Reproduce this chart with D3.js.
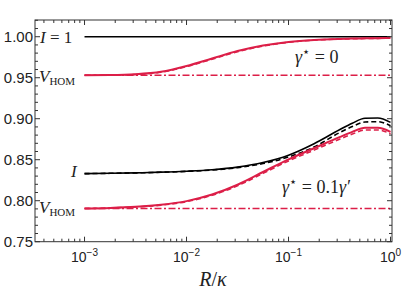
<!DOCTYPE html>
<html><head><meta charset="utf-8">
<script src="https://cdn.jsdelivr.net/npm/d3@7"></script>
<style>body{margin:0;background:#fff}svg{display:block}</style>
</head><body>
<svg id="c" width="405" height="298"></svg>
<script>
// ---- data ----
const R = [0.001,0.00178,0.00316,0.00562,0.01,0.0178,0.0316,0.0562,0.1,0.178,0.316,0.422,0.562,0.75,1.0];
// gamma* = 0
const I0  = [1,1,1,1,1,1,1,1,1,1,1,1,1,1,1];
const V0  = [0.953,0.9532,0.9542,0.9572,0.9643,0.9735,0.9825,0.9893,0.9937,0.9961,0.9973,0.9977,0.998,0.9982,0.9984];
const V0d = [0.953,0.9531,0.954,0.9567,0.9635,0.9726,0.9816,0.9886,0.9932,0.9958,0.9971,0.9975,0.9978,0.998,0.9982];
const V0base = 0.953;
// gamma* = 0.1 gamma'
const I1  = [0.833,0.8334,0.834,0.8348,0.836,0.8378,0.841,0.8465,0.8555,0.8695,0.8865,0.8945,0.9005,0.9008,0.8955];
const I1d = [0.833,0.8334,0.8339,0.8347,0.8358,0.8374,0.8403,0.8453,0.8533,0.8655,0.883,0.8905,0.896,0.8963,0.8915];
const V1  = [0.7905,0.7912,0.7925,0.795,0.7995,0.8075,0.8195,0.835,0.8505,0.864,0.8775,0.884,0.889,0.889,0.884];
const V1d = [0.7905,0.7911,0.7923,0.7946,0.7989,0.8066,0.8182,0.8333,0.8485,0.8617,0.875,0.8813,0.8862,0.8862,0.8815];
const V1base = 0.7905;
const yTicks = [0.75,0.80,0.85,0.90,0.95,1.00];
const xMajor = [1e-3,1e-2,1e-1,1];

// ---- layout ----
const L=35, T=20, Rt=392, B=241.7;
const svg = d3.select("#c");
const x = d3.scaleLog().domain([3.27e-4, 1.034]).range([L, Rt]);
const y = d3.scaleLinear().domain([0.75, 1.0204]).range([B, T]);
const red = "#dc1f48";

svg.append("defs").append("clipPath").attr("id","clip")
  .append("rect").attr("x",L).attr("y",T).attr("width",Rt-L).attr("height",B-T);

const g = svg.append("g").attr("clip-path","url(#clip)");
const line = (ys)=> d3.line().x((d,i)=>x(R[i])).y(d=>y(d)).curve(d3.curveMonotoneX)(ys);
const hline = (v)=> d3.line().x(d=>x(d)).y(()=>y(v))([R[0], R[R.length-1]]);

function path(d, color, w, dash){
  const p = g.append("path").attr("d", d).attr("fill","none").attr("stroke",color)
    .attr("stroke-width", w).attr("stroke-linejoin","round");
  if (dash) p.attr("stroke-dasharray", dash);
}
// baselines (dash-dot)
path(hline(V0base), red, 1.6, "7,2.5,2,2.5");
path(hline(V1base), red, 1.6, "7,2.5,2,2.5");
// gamma*=0
path(line(I0), "#000", 1.6);
path(line(V0), red, 2);
path(line(V0d), red, 1.6, "5,3");
// gamma*=0.1
path(line(I1), "#000", 1.6);
path(line(I1d), "#000", 1.6, "5,3");
path(line(V1), red, 2);
path(line(V1d), red, 1.6, "5,3");

// ---- frame & ticks ----
const ax = svg.append("g").attr("stroke","#333").attr("stroke-width",1);
ax.append("rect").attr("x",L).attr("y",T).attr("width",Rt-L).attr("height",B-T).attr("fill","none");
const yMinor = d3.range(0.75, 1.0201, 0.01).map(v=>+v.toFixed(2));
yMinor.forEach(v=>{
  const maj = yTicks.some(t=>Math.abs(t-v)<1e-6);
  const len = maj?5:3;
  ax.append("line").attr("x1",L).attr("x2",L+len).attr("y1",y(v)).attr("y2",y(v));
  ax.append("line").attr("x1",Rt).attr("x2",Rt-len).attr("y1",y(v)).attr("y2",y(v));
});
const xMin = [];
[1e-4,1e-3,1e-2,1e-1].forEach(dec=>{ for(let k=1;k<10;k++){ const v=k*dec; if(v>=3.27e-4 && v<=1.034) xMin.push(v);} });
xMin.push(1);
xMin.forEach(v=>{
  const maj = xMajor.some(t=>Math.abs(t-v)/t<1e-6);
  const len = maj?5:3;
  ax.append("line").attr("y1",B).attr("y2",B-len).attr("x1",x(v)).attr("x2",x(v));
  ax.append("line").attr("y1",T).attr("y2",T+len).attr("x1",x(v)).attr("x2",x(v));
});

// tick labels
const sans = "'Liberation Sans', Arial, sans-serif";
yTicks.forEach(v=>{
  svg.append("text").attr("x",L-2).attr("y",y(v)+5.5).attr("text-anchor","end")
    .attr("font-family",sans).attr("font-size",15).attr("fill","#222").text(d3.format(".2f")(v));
});
const expo = {1e-3:"\u22123",1e-2:"\u22122",1e-1:"\u22121",1:"0"};
xMajor.forEach(v=>{
  const t = svg.append("text").attr("x",x(v)).attr("y",B+20).attr("text-anchor","middle")
    .attr("font-family",sans).attr("font-size",14).attr("fill","#222");
  t.append("tspan").text("10");
  t.append("tspan").attr("dy",-6).attr("font-size",10).text(expo[v]);
});

// math labels
const serif = "'Liberation Serif', 'DejaVu Serif', serif";
function mtext(xp, yp, size){ return svg.append("text").attr("x",xp).attr("y",yp).attr("font-family",serif).attr("font-size",size).attr("fill","#222"); }
let t;
t = mtext(40, 43, 17); t.append("tspan").attr("font-style","italic").text("I"); t.append("tspan").text(" = 1");
t = mtext(39, 82, 17); t.append("tspan").attr("font-style","italic").text("V"); t.append("tspan").attr("dy",3).attr("font-size",11).text("HOM");
t = mtext(71, 177, 17); t.append("tspan").attr("font-style","italic").text("I");
t = mtext(39, 213, 17); t.append("tspan").attr("font-style","italic").text("V"); t.append("tspan").attr("dy",3).attr("font-size",11).text("HOM");
t = mtext(295, 63, 18); t.append("tspan").attr("font-style","italic").text("\u03B3"); t.append("tspan").attr("dy",-7).attr("font-size",13).attr("font-family","'DejaVu Sans', sans-serif").text("\u22C6"); t.append("tspan").attr("dy",7).text(" = 0");
t = mtext(282, 193, 18); t.append("tspan").attr("font-style","italic").text("\u03B3"); t.append("tspan").attr("dy",-7).attr("font-size",13).attr("font-family","'DejaVu Sans', sans-serif").text("\u22C6"); t.append("tspan").attr("dy",7).text(" = 0.1"); t.append("tspan").attr("font-style","italic").text("\u03B3\u2032");
t = mtext(213, 286, 20).attr("text-anchor","middle"); t.append("tspan").attr("font-style","italic").text("R"); t.append("tspan").text("/"); t.append("tspan").attr("font-style","italic").text("\u03BA");
</script>
</body></html>
